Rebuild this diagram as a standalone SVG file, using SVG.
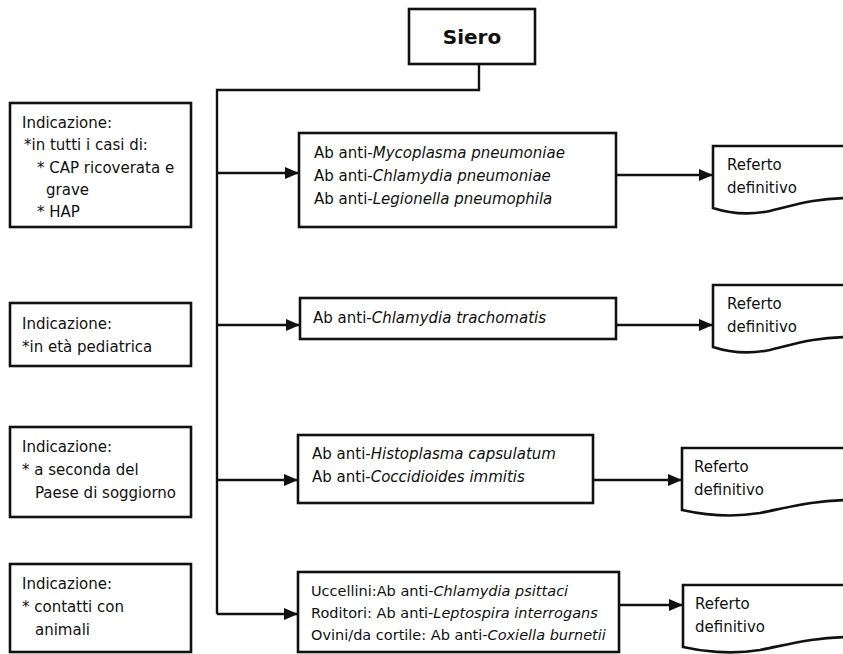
<svg xmlns="http://www.w3.org/2000/svg" width="843" height="654" viewBox="0 0 843 654">
<style>
.box{fill:#fff;stroke:#111;stroke-width:2.6}
.ln{fill:none;stroke:#111;stroke-width:2.4}
.t{font-family:"DejaVu Sans","Liberation Sans",sans-serif;font-size:15px;fill:#111}
.s{font-size:14.5px}
.i{font-style:italic}
.b{font-family:"DejaVu Sans","Liberation Sans",sans-serif;font-size:20px;font-weight:bold;fill:#111}
</style>
<defs>
<marker id="ah" markerUnits="userSpaceOnUse" markerWidth="14" markerHeight="12" refX="13" refY="6" orient="auto">
<path d="M0,0 L14,6 L0,12 Z" fill="#111"/>
</marker>
</defs>
<rect width="843" height="654" fill="#fff"/>
<g id="connectors">
<path class="ln" d="M479,64 V90 H217 V614"/>
<path class="ln" d="M217,614 H297" marker-end="url(#ah)"/>
<path class="ln" d="M217,173 H298" marker-end="url(#ah)"/>
<path class="ln" d="M217,325 H299" marker-end="url(#ah)"/>
<path class="ln" d="M217,480 H297" marker-end="url(#ah)"/>
<path class="ln" d="M616,175 H712" marker-end="url(#ah)"/>
<path class="ln" d="M616,325 H712" marker-end="url(#ah)"/>
<path class="ln" d="M593,480 H681" marker-end="url(#ah)"/>
<path class="ln" d="M619,605 H682" marker-end="url(#ah)"/>
</g>
<g id="siero">
<rect class="box" x="409" y="9" width="126" height="55"/>
<text class="b" x="472" y="44" text-anchor="middle">Siero</text>
</g>
<g id="ind1">
<rect class="box" x="10" y="103" width="181" height="124"/>
<text class="t" x="22" y="128">Indicazione:</text>
<text class="t" x="24" y="150">*in tutti i casi di:</text>
<text class="t" x="37" y="173">* CAP ricoverata e</text>
<text class="t" x="46" y="195">grave</text>
<text class="t" x="37" y="217">* HAP</text>
</g>
<g id="ind2">
<rect class="box" x="10" y="303" width="181" height="63"/>
<text class="t" x="22" y="329">Indicazione:</text>
<text class="t" x="22" y="352">*in età pediatrica</text>
</g>
<g id="ind3">
<rect class="box" x="10" y="427" width="181" height="90"/>
<text class="t" x="22" y="452">Indicazione:</text>
<text class="t" x="22" y="475">* a seconda del</text>
<text class="t" x="35" y="498">Paese di soggiorno</text>
</g>
<g id="ind4">
<rect class="box" x="10" y="564" width="181" height="88"/>
<text class="t" x="22" y="589">Indicazione:</text>
<text class="t" x="22" y="612">*  contatti con</text>
<text class="t" x="35" y="635">animali</text>
</g>
<g id="test1">
<rect class="box" x="299" y="133" width="317" height="94"/>
<text class="t" x="314" y="158">Ab anti-<tspan class="i">Mycoplasma pneumoniae</tspan></text>
<text class="t" x="314" y="181">Ab anti-<tspan class="i">Chlamydia pneumoniae</tspan></text>
<text class="t" x="314" y="204">Ab anti-<tspan class="i">Legionella pneumophila</tspan></text>
</g>
<g id="test2">
<rect class="box" x="300" y="298" width="316" height="41"/>
<text class="t" x="313" y="323">Ab anti-<tspan class="i">Chlamydia trachomatis</tspan></text>
</g>
<g id="test3">
<rect class="box" x="298" y="435" width="295" height="68"/>
<text class="t" x="312" y="459">Ab anti-<tspan class="i">Histoplasma capsulatum</tspan></text>
<text class="t" x="312" y="482">Ab anti-<tspan class="i">Coccidioides immitis</tspan></text>
</g>
<g id="test4">
<rect class="box" x="298" y="572" width="321" height="80"/>
<text class="t s" x="311" y="596">Uccellini:Ab anti-<tspan class="i">Chlamydia psittaci</tspan></text>
<text class="t s" x="311" y="618">Roditori: Ab anti-<tspan class="i">Leptospira interrogans</tspan></text>
<text class="t s" x="311" y="640">Ovini/da cortile: Ab anti-<tspan class="i">Coxiella burnetii</tspan></text>
</g>
<g id="doc1">
<path class="box" d="M713,146 H850 V198 C815,198 795,205 770,211 C745,216 725,212 713,208 Z"/>
<text class="t" x="727" y="170">Referto</text>
<text class="t" x="727" y="193">definitivo</text>
</g>
<g id="doc2">
<path class="box" d="M713,285 H850 V337 C815,337 795,344 770,350 C745,355 725,351 713,347 Z"/>
<text class="t" x="727" y="309">Referto</text>
<text class="t" x="727" y="332">definitivo</text>
</g>
<g id="doc3">
<path class="box" d="M682,448 H850 V500 C815,500 790,507 760,513 C730,518 700,514 682,510 Z"/>
<text class="t" x="694" y="472">Referto</text>
<text class="t" x="694" y="495">definitivo</text>
</g>
<g id="doc4">
<path class="box" d="M683,585 H850 V637 C815,637 790,644 760,650 C730,655 700,651 683,647 Z"/>
<text class="t" x="695" y="609">Referto</text>
<text class="t" x="695" y="632">definitivo</text>
</g>
</svg>
